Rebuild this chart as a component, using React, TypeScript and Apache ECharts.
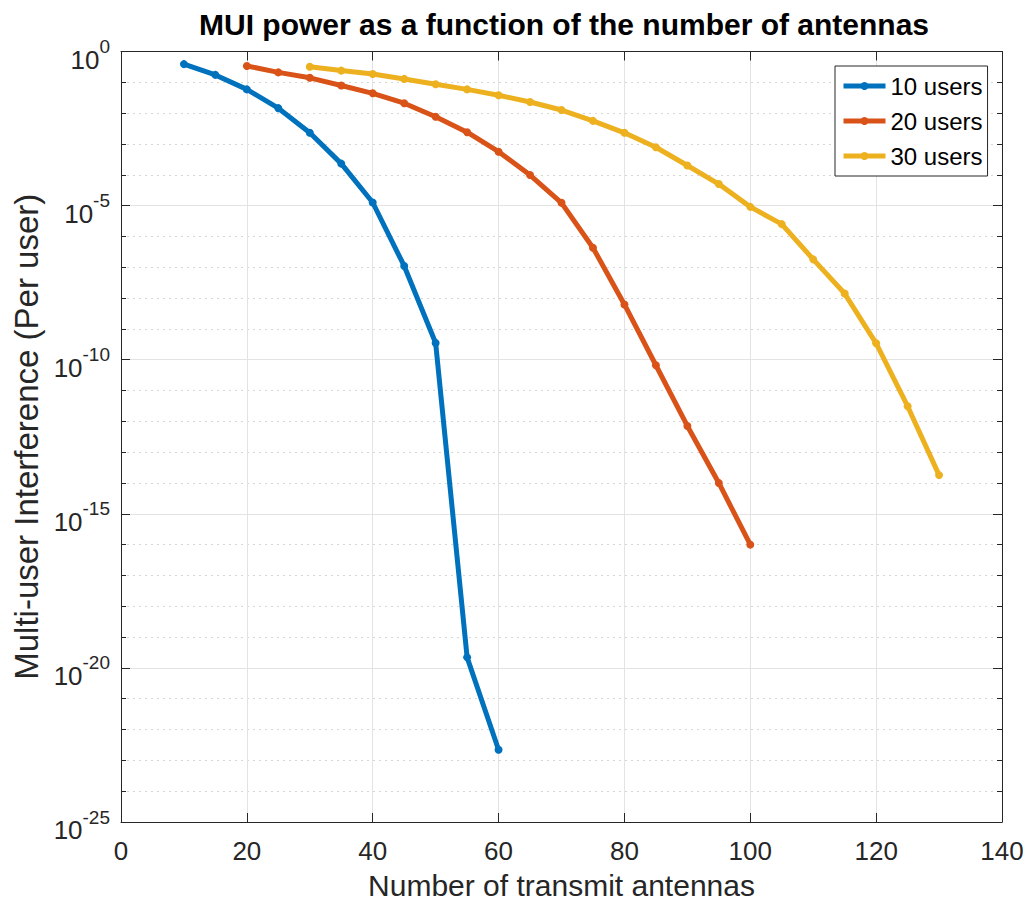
import React, { useEffect, useRef } from "react";
import * as echarts from "echarts";

const titleText = "MUI power as a function of the number of antennas";
const xName = "Number of transmit antennas";
const yName = "Multi-user Interference (Per user)";
const seriesNames = ["10 users", "20 users", "30 users"];
const colors = ["#0072BD", "#D95319", "#EDB120"];

const antennas10 = [10, 15, 20, 25, 30, 35, 40, 45, 50, 55, 60];
const mui10 = [3.9e-1, 1.74e-1, 5.9e-2, 1.45e-2, 2.3e-3, 2.3e-4, 1.26e-5, 1.1e-7, 3.5e-10, 2.2e-20, 2.2e-23];

const antennas20 = [20, 25, 30, 35, 40, 45, 50, 55, 60, 65, 70, 75, 80, 85, 90, 95, 100];
const mui20 = [3.4e-1, 2.1e-1, 1.4e-1, 7.9e-2, 4.4e-2, 2.1e-2, 7.6e-3, 2.4e-3, 5.6e-4, 9.8e-5, 1.23e-5, 4.3e-7, 6.2e-9, 6.6e-11, 7.1e-13, 1.0e-14, 1.0e-16];

const antennas30 = [30, 35, 40, 45, 50, 55, 60, 65, 70, 75, 80, 85, 90, 95, 100, 105, 110, 115, 120, 125, 130];
const mui30 = [3.2e-1, 2.4e-1, 1.86e-1, 1.29e-1, 8.7e-2, 5.9e-2, 3.8e-2, 2.3e-2, 1.26e-2, 5.6e-3, 2.3e-3, 7.8e-4, 2.0e-4, 5.0e-5, 9.1e-6, 2.5e-6, 1.8e-7, 1.4e-8, 3.4e-10, 3.1e-12, 1.8e-14];

const xTicks = [0, 20, 40, 60, 80, 100, 120, 140];
const yExpTicks = [-25, -20, -15, -10, -5, 0];

const FONT = "Liberation Sans, Arial, sans-serif";
const AX = "#262626";

export default function App() {
  const ref = useRef<HTMLDivElement>(null);
  useEffect(() => {
    if (!ref.current) return;
    const chart = echarts.init(ref.current, undefined, { renderer: "svg" });
    const mk = (xs: number[], ys: number[]) => xs.map((x, i) => [x, Math.log10(ys[i])]);
    const datas = [mk(antennas10, mui10), mk(antennas20, mui20), mk(antennas30, mui30)];
    const xMin = xTicks[0];
    const xMax = xTicks[xTicks.length - 1];
    const yMin = yExpTicks[0];
    const yMax = yExpTicks[yExpTicks.length - 1];
    chart.setOption({
      animation: false,
      backgroundColor: "#ffffff",
      textStyle: { fontFamily: FONT },
      title: {
        text: titleText,
        left: 194,
        top: 4,
        textStyle: { fontFamily: FONT, fontSize: 30, fontWeight: "bold", color: "#000" },
      },
      legend: {
        orient: "vertical",
        left: 835,
        top: 66,
        padding: [8, 5, 8, 6],
        itemGap: 11,
        itemWidth: 42,
        itemHeight: 10,
        borderColor: AX,
        borderWidth: 1,
        backgroundColor: "#fff",
        lineStyle: { width: 5 },
        textStyle: { fontFamily: FONT, fontSize: 24, color: "#000" },
        data: seriesNames,
      },
      grid: { left: 121, right: 26, top: 51.5, bottom: 88, containLabel: false },
      xAxis: [
        {
          type: "value",
          min: xMin,
          max: xMax,
          interval: 20,
          position: "bottom",
          name: xName,
          nameLocation: "middle",
          nameGap: 48,
          nameTextStyle: { fontFamily: FONT, fontSize: 30, color: AX },
          axisLine: { show: true, onZero: false, lineStyle: { color: AX, width: 1 } },
          axisTick: { show: true, inside: true, length: 9, lineStyle: { color: AX } },
          axisLabel: { fontFamily: FONT, fontSize: 26, color: AX, margin: 16 },
          splitLine: { show: true, lineStyle: { color: "#e3e3e3", width: 1 } },
        },
        {
          type: "value",
          min: xMin,
          max: xMax,
          interval: 20,
          position: "top",
          axisLine: { show: true, onZero: false, lineStyle: { color: AX, width: 1 } },
          axisTick: { show: true, inside: true, length: 9, lineStyle: { color: AX } },
          axisLabel: { show: false },
          splitLine: { show: false },
        },
      ],
      yAxis: [
        {
          type: "value",
          min: yMin,
          max: yMax,
          interval: 5,
          position: "left",
          name: yName,
          nameLocation: "middle",
          nameGap: 77,
          nameTextStyle: { fontFamily: FONT, fontSize: 33, color: AX },
          axisLine: { show: true, onZero: false, lineStyle: { color: AX, width: 1 } },
          axisTick: { show: true, inside: true, length: 9, lineStyle: { color: AX } },
          minorTick: { show: true, splitNumber: 5, length: 5, lineStyle: { color: AX } },
          minorSplitLine: { show: true, lineStyle: { color: "#d6d6d6", type: [2, 4], width: 1 } },
          splitLine: { show: true, lineStyle: { color: "#e3e3e3", width: 1 } },
          axisLabel: {
            margin: 11,
            formatter: (v: number) => `{b|10}{s|${v}}`,
            rich: {
              b: { fontFamily: FONT, fontSize: 26, color: AX, padding: [16, 0, 0, 0] },
              s: { fontFamily: FONT, fontSize: 19, color: AX, padding: [0, 0, 10, 0] },
            },
          },
        },
        {
          type: "value",
          min: yMin,
          max: yMax,
          interval: 5,
          position: "right",
          axisLine: { show: true, onZero: false, lineStyle: { color: AX, width: 1 } },
          axisTick: { show: true, inside: true, length: 9, lineStyle: { color: AX } },
          minorTick: { show: true, splitNumber: 5, length: 5, lineStyle: { color: AX } },
          axisLabel: { show: false },
          splitLine: { show: false },
        },
      ],
      series: seriesNames.map((name, i) => ({
        name,
        type: "line",
        xAxisIndex: 0,
        yAxisIndex: 0,
        data: datas[i],
        color: colors[i],
        symbol: "circle",
        symbolSize: 8,
        showSymbol: true,
        lineStyle: { width: 5, color: colors[i] },
        itemStyle: { color: colors[i] },
        z: 3 + i,
      })),
    });
    return () => chart.dispose();
  }, []);
  return (
    <div
      ref={ref}
      style={{ position: "fixed", left: 0, top: 0, width: 1028, height: 910, background: "#fff" }}
    />
  );
}
